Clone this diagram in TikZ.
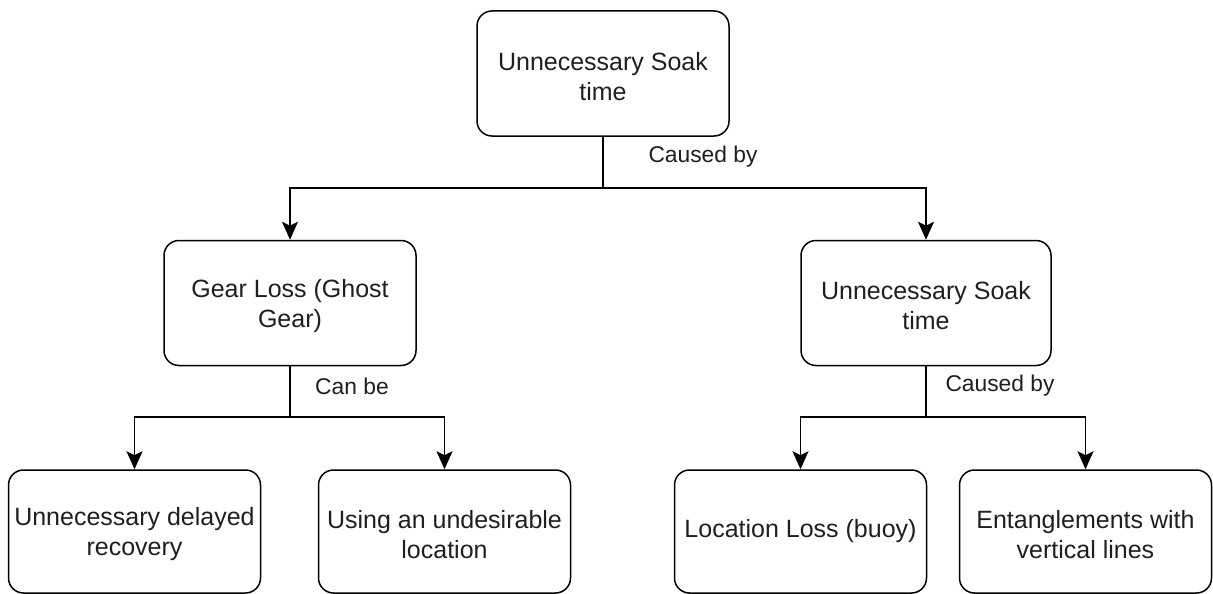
\documentclass[tikz,border=0pt]{standalone}
\usepackage{fontspec}
\setmainfont{Liberation Sans}
\usetikzlibrary{arrows.meta}
\newcommand{\upstrut}{\rule{0pt}{24pt}}
\begin{document}
\begin{tikzpicture}[x=1pt,y=-1pt,
  box/.style={draw=black, line width=1.5pt, rounded corners=15pt, minimum width=252pt, minimum height=125pt, align=center, inner sep=2pt, font=\fontsize{25}{30}\selectfont, text=black!88},
  conn/.style={draw=black, line width=1.5pt, -{Stealth[length=18pt,width=16pt,inset=4pt]}},
  lbl/.style={font=\fontsize{22.8}{26}\selectfont, text=black!88}]
\useasboundingbox (0,0) rectangle (1213,594);
\node[box] (top) at (603,73.5) {\upstrut Unnecessary Soak\\time};
\node[box] (gl) at (290,303) {\upstrut Gear Loss (Ghost\\Gear)};
\node[box, minimum width=250pt] (st) at (926,303) {\upstrut Unnecessary Soak\\time};
\node[box, minimum height=123pt] (b1) at (134.5,531.5) {\upstrut Unnecessary delayed\\recovery};
\node[box, minimum height=123pt] (b2) at (444.5,531.5) {\upstrut Using an undesirable\\location};
\node[box, minimum height=123pt] (b3) at (800.5,531.5) {Location Loss (buoy)};
\node[box, minimum height=123pt] (b4) at (1085.5,531.5) {\upstrut Entanglements with\\vertical lines};
\coordinate (j1) at (603,188);
\coordinate (j2) at (290,417);
\coordinate (j3) at (926,417);
\draw[conn] (top.south) -- (j1) -| (gl.north);
\draw[conn] (j1) -| (st.north);
\draw[conn] (gl.south) -- (j2) -| (b1.north);
\draw[conn] (j2) -| (b2.north);
\draw[conn] (st.south) -- (j3) -| (b3.north);
\draw[conn] (j3) -| (b4.north);
\node[lbl] (l1) at (703,157) {Caused by};
\node[lbl] (l2) at (352,386) {Can be};
\node[lbl] (l3) at (1000,386) {Caused by};
\end{tikzpicture}
\end{document}
